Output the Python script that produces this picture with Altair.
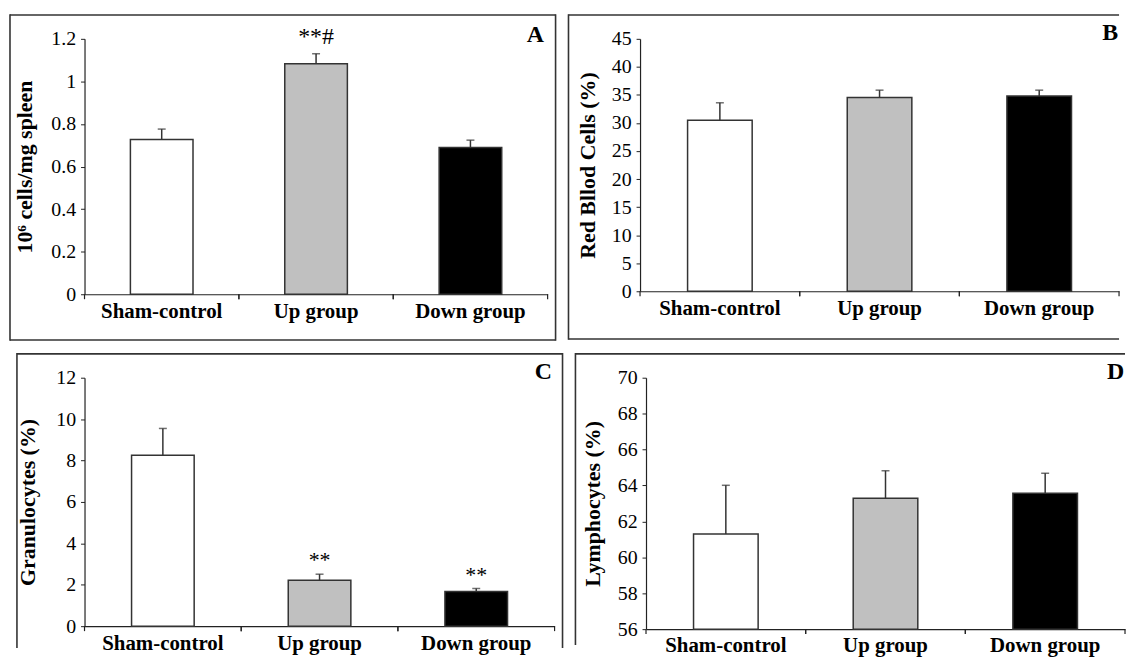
import altair as alt
import pandas as pd

SERIF = "Liberation Serif"
DARK = "#333333"

groups = ["Sham-control", "Up group", "Down group"]
fills = ["#ffffff", "#c0c0c0", "#000000"]

a_mean = [0.727, 1.083, 0.690]
a_err = [0.049, 0.047, 0.034]
a_note = ["", "**#", ""]
a_ticks = [0, 0.2, 0.4, 0.6, 0.8, 1.0, 1.2]

b_mean = [30.5, 34.55, 34.8]
b_err = [3.1, 1.3, 1.05]
b_note = ["", "", ""]
b_ticks = [0, 5, 10, 15, 20, 25, 30, 35, 40, 45]

c_mean = [8.26, 2.22, 1.68]
c_err = [1.29, 0.29, 0.14]
c_note = ["", "**", "**"]
c_ticks = [0, 2, 4, 6, 8, 10, 12]

d_mean = [61.3, 63.29, 63.57]
d_err = [2.71, 1.53, 1.11]
d_note = ["", "", ""]
d_ticks = [56, 58, 60, 62, 64, 66, 68, 70]

one = pd.DataFrame({"k": [0]})


def seg(x1, y1, x2, y2):
    return alt.Chart(one).mark_rule(color=DARK, strokeWidth=1.6).encode(
        x=alt.value(x1), x2=alt.value(x2), y=alt.value(y1), y2=alt.value(y2)
    )


def panel(letter, title, mean, err, notes, ticks, dom, W, H, bar_w, sides,
          title_pad, note_size, note_dy, letter_xy):
    df = pd.DataFrame({
        "group": groups,
        "mean": mean,
        "top": [m + e for m, e in zip(mean, err)],
        "base": [dom[0]] * 3,
        "note": notes,
        "fill": fills,
    })
    base = alt.Chart(df)
    xsc = alt.Scale(domain=groups, paddingInner=0, paddingOuter=0)
    ysc = alt.Scale(domain=dom, nice=False, zero=False)
    x = alt.X("group:N", scale=xsc, sort=groups, title=None,
              axis=alt.Axis(title=None, labelAngle=0, ticks=False, tickSize=0, labelPadding=6,
                            labelFont=SERIF, labelFontSize=21, labelFontWeight="bold",
                            labelColor="black"))
    yaxis = alt.Axis(title=title, values=ticks, tickCount=len(ticks), format="~g", grid=False,
                     labelOverlap=False, titlePadding=title_pad,
                     labelFont=SERIF, labelFontSize=20, labelColor="black", labelPadding=5,
                     tickSize=4, tickColor="#222222", tickWidth=1,
                     domainColor="#222222", domainWidth=1.2,
                     titleFont=SERIF, titleFontSize=22, titleFontWeight="bold", titleColor="black")
    y = alt.Y("mean:Q", scale=ysc, title=title, axis=yaxis)
    bars = base.mark_bar(width=bar_w, stroke=DARK, strokeWidth=1.5).encode(
        x=x, y=y, y2="base:Q", fill=alt.Fill("fill:N", scale=None))
    err_rule = base.mark_rule(color=DARK, strokeWidth=1.5).encode(
        x=alt.X("group:N", title=None), y=alt.Y("mean:Q", title=title), y2="top:Q")
    caps = base.mark_tick(color=DARK, thickness=1.5, size=8).encode(
        x=alt.X("group:N", title=None), y=alt.Y("top:Q", title=title))
    btick0 = base.mark_rule(color="#222222", strokeWidth=1.2).encode(
        x=alt.X("group:N", bandPosition=0, title=None), y=alt.value(H), y2=alt.value(H + 5))
    btick1 = base.mark_rule(color="#222222", strokeWidth=1.2).encode(
        x=alt.X("group:N", bandPosition=1, title=None), y=alt.value(H), y2=alt.value(H + 5))
    note = base.mark_text(font=SERIF, fontSize=note_size, color="black",
                          baseline="alphabetic", dy=note_dy).encode(
        x=alt.X("group:N", title=None), y=alt.Y("top:Q", title=title), text="note:N")
    lab = alt.Chart(one).mark_text(font=SERIF, fontSize=24, fontWeight="bold", color="black",
                                   align="left", baseline="alphabetic").encode(
        x=alt.value(letter_xy[0]), y=alt.value(letter_xy[1]), text=alt.value(letter))
    layers = [bars, err_rule, caps, btick0, btick1, note, lab] + [seg(*s) for s in sides]
    return alt.layer(*layers).properties(width=W, height=H)


# Panel A
WA, HA = 466, 257
pA = panel("A", "10⁶ cells/mg spleen", a_mean, a_err, a_note, a_ticks, [0, 1.2], WA, HA, 63,
           [(-75, -24, 474, -24), (-75, 303, 474, 303), (-75, -24.8, -75, 303.8),
            (474, -24.8, 474, 303.8)],
           14, 24, -10, (445, 3))
# Panel B
WB, HB = 482, 254
pB = panel("B", "Red Bllod Cells (%)", b_mean, b_err, b_note, b_ticks, [0, 45], WB, HB, 65,
           [(-72, -24, WB, -24), (-72, 302, WB, 302), (-72, -24.8, -72, 302.8)],
           12, 22, -7, (465, 1))
# Panel C
WC, HC = 473, 250
pC = panel("C", "Granulocytes (%)", c_mean, c_err, c_note, c_ticks, [0, 12], WC, HC, 63,
           [(-68, -24, 481, -24), (-68, -24.8, -68, 272), (481, -24.8, 481, 272)],
           16, 22, -7, (453, 1))
# Panel D
WD, HD = 482, 253
pD = panel("D", "Lymphocytes (%)", d_mean, d_err, d_note, d_ticks, [56, 70], WD, HD, 65,
           [(-71, -24, WD, -24), (-71, -24.8, -71, 269)],
           13, 22, -7, (464, 1))

top = alt.hconcat(pA, pB, spacing=11)
bottom = alt.hconcat(pC, pD, spacing=11)
chart = alt.vconcat(top, bottom, spacing=10).properties(
    padding={"left": 1, "top": 3, "right": 0, "bottom": 0}
).configure(background="white").configure_view(stroke=None).configure_axisX(
    domainColor="#222222", domainWidth=1.2, grid=False
)

chart.save("out.html", embed_options={"renderer": "svg", "actions": False})
